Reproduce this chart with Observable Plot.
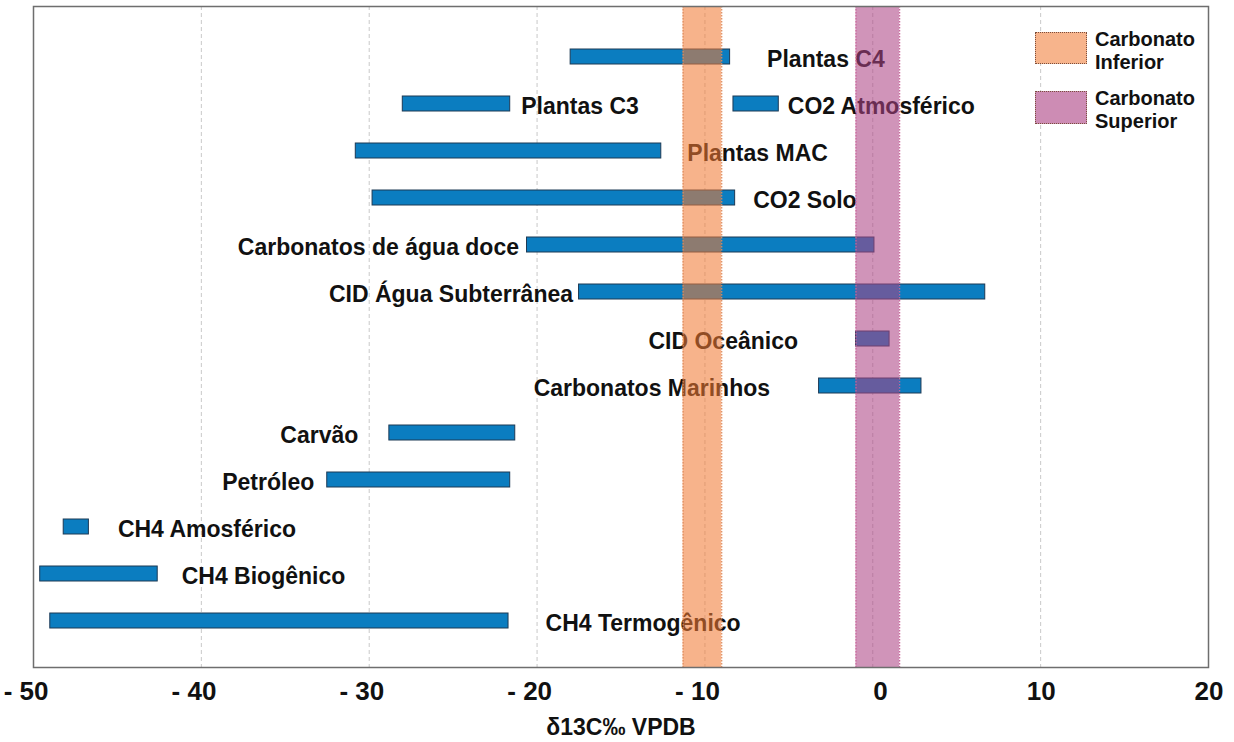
<!DOCTYPE html>
<html lang="pt">
<head>
<meta charset="utf-8">
<script src="https://cdn.jsdelivr.net/npm/d3@7"></script>
<script src="https://cdn.jsdelivr.net/npm/@observablehq/plot@0.6"></script>
<style>
  html, body { margin: 0; padding: 0; background: #fff; }
  #grafico { position: relative; width: 1234px; height: 742px; font-family: "Liberation Sans", Arial, sans-serif; }
  .legenda { position: absolute; left: 1035px; }
  .legenda .amostra { position: absolute; left: 0; width: 50px; border: 1px dotted #7a4e3c; }
  .legenda .texto { position: absolute; left: 60px; font-size: 20px; font-weight: bold; line-height: 23px; color: #111; white-space: nowrap; }
</style>
</head>
<body>
<div id="grafico"></div>
<script>
// Faixas de δ13C (‰ VPDB) por fonte de carbono
const fontes = [
  "Plantas C4", "Plantas C3", "CO2 Atmosférico", "Plantas MAC", "CO2 Solo",
  "Carbonatos de água doce", "CID Água Subterrânea", "CID Oceânico",
  "Carbonatos Marinhos", "Carvão", "Petróleo", "CH4 Amosférico",
  "CH4 Biogênico", "CH4 Termogênico"
];
const minimo = [-18, -28, -8.3, -30.8, -29.8, -20.6, -17.5, -1, -3.2, -28.8, -32.5, -48.2, -49.6, -49];
const maximo = [-8.5, -21.6, -5.6, -12.6, -8.2, 0.1, 6.7, 1, 2.9, -21.3, -21.6, -46.7, -42.6, -21.7];
// linha do gráfico em que cada fonte aparece (C3 e CO2 atmosférico dividem a mesma)
const linha = [1, 2, 2, 3, 4, 5, 6, 7, 8, 9, 10, 11, 12, 13];

// rótulos: de que lado da barra ficam e a folga (px) até ela
const rotuloLado = ["dir", "dir", "dir", "dir", "dir", "esq", "esq", "esq", "esq", "esq", "esq", "dir", "dir", "dir"];
const rotuloFolga = [37, 11, 9, 26, 18, 8, 6, 58, 49, 31, 13, 29, 24, 37];

// intervalos dos carbonatos estudados
const faixas = ["Carbonato Inferior", "Carbonato Superior"];
const faixaMin = [-11.3, -1];
const faixaMax = [-9.0, 1.6];
const faixaCor = ["rgb(241,122,51)", "rgb(173,66,132)"];
const faixaBorda = ["#dd8a5c", "#c9649a"];

// eixo x
const marcas = [-50, -40, -30, -20, -10, 0, 10, 20];
const marcasTexto = ["- 50", "- 40", "- 30", "- 20", "- 10", "0", "10", "20"];
const grade = [-40, -30, -20, -10, 0, 10];
const tituloX = "δ13C‰ VPDB";

const dados = fontes.map((nome, i) => ({
  nome, min: minimo[i], max: maximo[i], linha: linha[i],
  lado: rotuloLado[i], folga: rotuloFolga[i]
}));
const dadosFaixas = faixas.map((nome, i) => ({
  nome, min: faixaMin[i], max: faixaMax[i], cor: faixaCor[i], borda: faixaBorda[i]
}));

const fonte = "'Liberation Sans', Arial, sans-serif";

const rotulos = dados.map(d => Plot.text([d], {
  x: d.lado === "dir" ? "max" : "min",
  y: "linha",
  text: "nome",
  textAnchor: d.lado === "dir" ? "start" : "end",
  dx: d.lado === "dir" ? d.folga : -d.folga,
  dy: 3,
  fontSize: 23,
  fontWeight: "bold",
  fill: "#111"
}));

const grafico = Plot.plot({
  width: 1234,
  height: 742,
  marginTop: 6,
  marginRight: 26,
  marginBottom: 75,
  marginLeft: 33,
  style: { fontFamily: fonte, background: "#fff", color: "#111" },
  x: { domain: [-50, 20], axis: null },
  y: { type: "band", domain: d3.range(1, 14), padding: 0, insetTop: 25, insetBottom: 22, axis: null },
  marks: [
    Plot.ruleX(grade, { stroke: "#c9c9c9", strokeWidth: 1, strokeDasharray: "4,3" }),
    Plot.barX(dados, {
      x1: "min", x2: "max", y: "linha",
      insetTop: 16, insetBottom: 16,
      fill: "#0b7dc0", stroke: "#1d3a55", strokeWidth: 1
    }),
    ...rotulos,
    Plot.rectX(dadosFaixas, { x1: "min", x2: "max", fill: "cor", opacity: 0.57 }),
    Plot.ruleX(dadosFaixas, { x: "min", stroke: "borda", strokeWidth: 1.2, strokeDasharray: "1.5,1.5" }),
    Plot.ruleX(dadosFaixas, { x: "max", stroke: "borda", strokeWidth: 1.2, strokeDasharray: "1.5,1.5" }),
    Plot.frame({ stroke: "#6e6e6e", strokeWidth: 1.5 }),
    Plot.axisX(marcas, {
      tickSize: 0,
      tickPadding: 14,
      tickFormat: d => marcasTexto[marcas.indexOf(d)],
      textAnchor: "end",
      dx: 15,
      fontSize: 26,
      fontWeight: "bold",
      fill: "#111",
      label: null
    }),
    Plot.text([tituloX], {
      frameAnchor: "bottom",
      text: d => d,
      dy: 51,
      lineAnchor: "top",
      fontSize: 23,
      fontWeight: "bold",
      fill: "#111"
    })
  ]
});

const alvo = document.getElementById("grafico");
alvo.appendChild(grafico);

// legenda das faixas, no canto superior direito da área do gráfico
const legenda = [
  { top: 32, altura: 32, cor: "rgb(247,180,140)" },
  { top: 91, altura: 33, cor: "rgb(205,140,180)" }
];
legenda.forEach((item, i) => {
  const bloco = document.createElement("div");
  bloco.className = "legenda";
  bloco.style.top = item.top + "px";
  const amostra = document.createElement("div");
  amostra.className = "amostra";
  amostra.style.top = "0px";
  amostra.style.height = (item.altura - 2) + "px";
  amostra.style.background = item.cor;
  const texto = document.createElement("div");
  texto.className = "texto";
  texto.style.top = "-4px";
  texto.innerHTML = faixas[i].split(" ").join("<br>");
  bloco.appendChild(amostra);
  bloco.appendChild(texto);
  alvo.appendChild(bloco);
});
</script>
</body>
</html>
